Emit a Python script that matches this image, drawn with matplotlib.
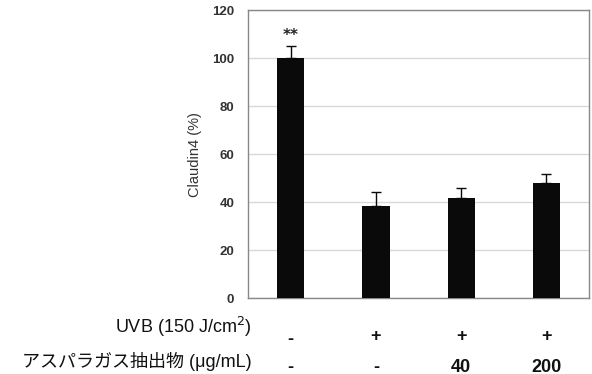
import matplotlib
matplotlib.use("Agg")
import matplotlib.pyplot as plt

groups = ["1", "2", "3", "4"]
values = [100, 38.5, 41.5, 47.8]
errors = [5, 5.5, 4.5, 4]
uvb_row = ["-", "+", "+", "+"]
extract_row = ["-", "-", "40", "200"]
yticks = [0, 20, 40, 60, 80, 100, 120]

fig = plt.figure(figsize=(5.92, 3.74), dpi=100)
ax = fig.add_axes([0.419, 0.203, 0.576, 0.770])

x = list(range(len(groups)))
ax.bar(x, values, width=0.32, color="#0a0a0a", zorder=3)
ax.errorbar(x, values, yerr=[[0]*len(errors), errors], fmt="none",
            ecolor="#0a0a0a", elinewidth=1, capsize=3.5, capthick=1, zorder=4)

ax.set_xlim(-0.5, len(groups) - 0.5)
ax.set_ylim(0, 120)
ax.set_yticks(yticks)
ax.set_yticklabels([str(t) for t in yticks], fontsize=9.5, color="#333333",
                   fontweight="bold", family="Liberation Sans")
ax.set_xticks([])
ax.tick_params(axis="y", length=0, pad=10)
ax.grid(axis="y", color="#d9d9d9", linewidth=1, zorder=0)
for s in ax.spines.values():
    s.set_color("#888888")
    s.set_linewidth(1)

ax.set_ylabel("Claudin4 (%)", fontsize=10.5, color="#333333",
              family="Liberation Sans", labelpad=7)

ax.text(0, 109.5, "**", ha="center", va="center", fontsize=11,
        fontweight="bold", color="#222222")

row_font = ["Liberation Sans", "Noto Sans CJK JP", "DejaVu Sans"]
fig.text(252/592, 1 - 333/374, "UVB (150 J/cm$^2$)", ha="right", va="baseline",
         fontsize=13, family=row_font, color="#111111")
fig.text(252/592, 1 - 367/374, "アスパラガス抽出物 (μg/mL)", ha="right", va="baseline",
         fontsize=13, family=row_font, color="#111111")

for i in range(len(groups)):
    xd = ax.transData.transform((i, 0))[0]
    xf = fig.transFigure.inverted().transform((xd, 0))[0]
    y1 = 338 if uvb_row[i] == "-" else 334
    fig.text(xf, 1 - y1/374, uvb_row[i], ha="center", va="center_baseline",
             fontsize=13, fontweight="bold", family="Liberation Sans", color="#111111")
    y2 = 365 if extract_row[i] == "-" else 365
    fig.text(xf, 1 - y2/374, extract_row[i], ha="center", va="center_baseline",
             fontsize=13, fontweight="bold", family="Liberation Sans", color="#111111")

fig.savefig("out.png", dpi=100)
